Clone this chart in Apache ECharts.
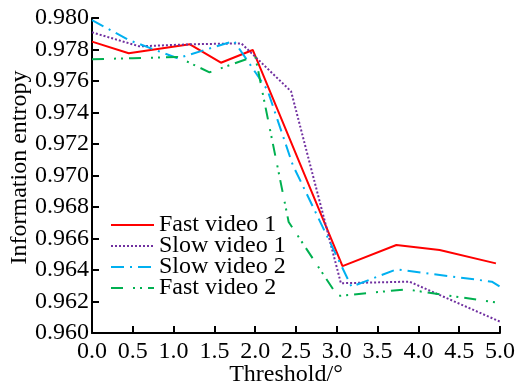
<!DOCTYPE html>
<html>
<head>
<meta charset="utf-8">
<script src="https://cdn.jsdelivr.net/npm/echarts@6/dist/echarts.min.js"></script>
<style>
  html, body { margin: 0; padding: 0; background: #fff; }
  #chart { width: 519px; height: 388px; }
</style>
</head>
<body>
<div id="chart"></div>
<script>
// values
var fast1X = [0, 0.45, 1.2, 1.58, 1.97, 3.07, 3.73, 4.26, 4.95];
var fast1Y = [0.9785, 0.97776, 0.97833, 0.97716, 0.97797, 0.96425, 0.96559, 0.96527, 0.96442];
var slow1X = [0, 0.58, 1.2, 1.83, 2.44, 3.05, 3.89, 5.0];
var slow1Y = [0.97909, 0.9782, 0.97833, 0.97839, 0.97534, 0.96316, 0.96326, 0.96072];
var slow2X = [0, 0.45, 1.05, 1.74, 2.15, 2.46, 3.18, 3.73, 4.9, 5.0];
var slow2Y = [0.97987, 0.9786, 0.97744, 0.97854, 0.97543, 0.97067, 0.96294, 0.96404, 0.96326, 0.96294];
var fast2X = [0, 0.5, 1.05, 1.44, 2.0, 2.41, 3.01, 3.85, 5.0];
var fast2Y = [0.97738, 0.97745, 0.97752, 0.97655, 0.97758, 0.96705, 0.96235, 0.96277, 0.9619];
var names = ["Fast video 1", "Slow video 1", "Slow video 2", "Fast video 2"];

function pairs(xs, ys) {
  var out = [];
  for (var i = 0; i < xs.length; i++) out.push([xs[i], ys[i]]);
  return out;
}

var font = "'Liberation Serif', 'Times New Roman', serif";
var myChart = echarts.init(document.getElementById("chart"));

function lineSeries(name, xs, ys, color, type) {
  return {
    name: name,
    type: "line",
    symbol: "none",
    data: pairs(xs, ys),
    lineStyle: { color: color, width: 2, type: type },
    itemStyle: { color: color }
  };
}

myChart.setOption({
  animation: false,
  textStyle: { fontFamily: font, color: "#000" },
  grid: { left: 92, right: 19, top: 18, bottom: 55, outerBoundsMode: "none", containLabel: false },
  legend: {
    orient: "vertical",
    left: 110,
    top: 213,
    padding: 0,
    itemWidth: 43,
    itemHeight: 14,
    itemGap: -3,
    itemStyle: { opacity: 0 },
    data: names,
    textStyle: { fontFamily: font, fontSize: 24, color: "#000", lineHeight: 20 }
  },
  xAxis: {
    type: "value",
    min: 0,
    max: 5,
    interval: 0.5,
    name: "Threshold/°",
    nameLocation: "middle",
    nameGap: 30,
    nameMoveOverlap: false,
    nameTextStyle: { fontFamily: font, fontSize: 24, color: "#000", padding: [0, 20, 0, 0] },
    splitLine: { show: false },
    axisLine: { onZero: false, lineStyle: { color: "#000", width: 2 } },
    axisTick: { inside: true, length: 7, lineStyle: { color: "#000", width: 2 } },
    axisLabel: {
      margin: 7,
      fontFamily: font,
      fontSize: 24,
      color: "#000",
      formatter: function (v) { return v.toFixed(1); }
    }
  },
  yAxis: {
    type: "value",
    min: 0.96,
    max: 0.98,
    interval: 0.002,
    name: "Information entropy",
    nameLocation: "middle",
    nameGap: 60,
    nameMoveOverlap: false,
    nameRotate: 90,
    nameTextStyle: { fontFamily: font, fontSize: 24, color: "#000", padding: [0, 0, 0, 16] },
    splitLine: { show: false },
    axisLine: { show: true, onZero: false, lineStyle: { color: "#000", width: 2 } },
    axisTick: { show: true, inside: true, length: 7, lineStyle: { color: "#000", width: 2 } },
    axisLabel: {
      margin: 3,
      fontFamily: font,
      fontSize: 24,
      color: "#000",
      formatter: function (v) { return v.toFixed(3); }
    }
  },
  series: [
    lineSeries(names[0], fast1X, fast1Y, "#ff0000", "solid"),
    lineSeries(names[1], slow1X, slow1Y, "#7030a0", [2, 2]),
    lineSeries(names[2], slow2X, slow2Y, "#00b0f0", [13, 6, 2, 6]),
    lineSeries(names[3], fast2X, fast2Y, "#00b050", [12, 10, 2, 5, 2, 6])
  ]
});
</script>
</body>
</html>
